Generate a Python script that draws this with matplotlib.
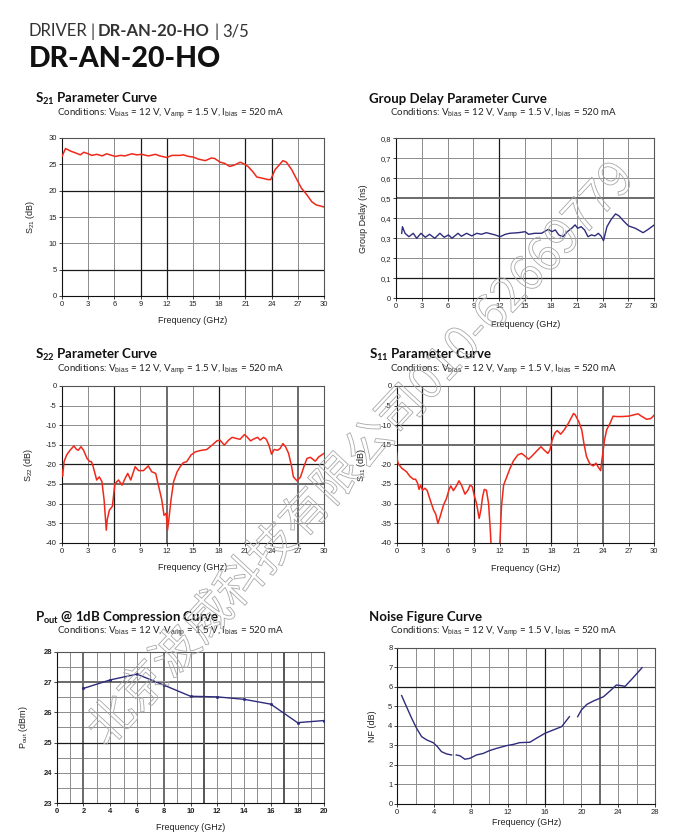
import numpy as np
import matplotlib
matplotlib.use("Agg")
import matplotlib.pyplot as plt
import matplotlib.patheffects as pe

plt.rcParams['font.family'] = ['Liberation Sans', 'DejaVu Sans']
plt.rcParams['mathtext.fontset'] = 'custom'
plt.rcParams['mathtext.rm'] = 'Liberation Sans'
plt.rcParams['mathtext.it'] = 'Liberation Sans:italic'
plt.rcParams['mathtext.bf'] = 'Lato:bold'
plt.rcParams['axes.unicode_minus'] = False

# ---------------- data ----------------
s21_f = [0, 0.4, 1.0, 1.5, 2.1, 2.5, 3.0, 3.4, 4.0, 4.6, 5.1, 6.1, 6.7, 7.2, 8.0, 8.6, 9.1, 9.9,
         10.7, 11.2, 12.0, 12.6, 13.5, 13.9, 14.5, 15.0, 15.6, 16.4, 17.1, 17.5, 18.1, 18.6, 19.2,
         19.8, 20.4, 20.7, 21.3, 21.9, 22.3, 23.1, 23.6, 23.9, 24.4, 25.3, 25.7, 26.3, 26.8, 27.4,
         28.0, 28.6, 29.1, 30.0]
s21_db = [26.5, 28.0, 27.5, 27.2, 26.8, 27.3, 27.0, 26.7, 26.9, 26.6, 27.0, 26.5, 26.7, 26.6, 27.0,
          26.8, 26.9, 26.6, 26.9, 26.6, 26.3, 26.7, 26.7, 26.8, 26.5, 26.4, 26.0, 25.7, 26.2, 26.1,
          25.4, 25.2, 24.6, 24.9, 25.4, 25.2, 24.6, 23.5, 22.6, 22.3, 22.1, 22.1, 24.0, 25.7, 25.4,
          24.0, 22.4, 20.5, 19.3, 17.9, 17.3, 16.9]

gd_f = [0.66, 0.75, 1.05, 1.5, 2.0, 2.4, 2.9, 3.4, 3.9, 4.5, 5.1, 5.6, 6.1, 6.5, 7.2, 7.6, 8.2,
        8.8, 9.4, 9.9, 10.5, 11.5, 12.1, 12.7, 13.2, 14.2, 15.0, 15.4, 16.1, 16.9, 17.7, 18.1,
        18.5, 18.9, 19.4, 19.9, 20.4, 20.8, 21.1, 21.5, 21.9, 22.3, 22.7, 23.1, 23.5, 23.8, 24.1,
        24.5, 25.0, 25.5, 25.9, 26.4, 27.0, 27.8, 28.7, 29.3, 30.0]
gd_ns = [0.325, 0.358, 0.325, 0.308, 0.325, 0.300, 0.325, 0.305, 0.320, 0.300, 0.325, 0.305, 0.317,
         0.300, 0.325, 0.310, 0.325, 0.312, 0.325, 0.320, 0.328, 0.317, 0.308, 0.320, 0.325, 0.328,
         0.333, 0.320, 0.325, 0.325, 0.345, 0.333, 0.342, 0.317, 0.308, 0.333, 0.350, 0.367, 0.350,
         0.358, 0.342, 0.308, 0.317, 0.312, 0.325, 0.312, 0.288, 0.358, 0.395, 0.422, 0.412, 0.388,
         0.362, 0.350, 0.328, 0.345, 0.367]

s22_f = [0.0, 0.1, 0.27, 0.57, 0.95, 1.4, 1.7, 1.9, 2.2, 2.5, 2.9, 3.2, 3.4, 3.6, 4.0, 4.3, 4.6,
         4.85, 5.1, 5.2, 5.45, 5.8, 6.0, 6.1, 6.5, 6.9, 7.25, 7.55, 7.9, 8.4, 8.8, 9.35, 9.9, 10.3,
         10.75, 11.1, 11.45, 11.7, 11.95, 12.1, 12.25, 12.5, 12.8, 13.2, 13.55, 13.9, 14.3, 14.8,
         15.3, 15.8, 16.6, 17.2, 17.75, 18.1, 18.6, 19.1, 19.5, 20.0, 20.4, 20.9, 21.2, 21.6, 21.9,
         22.4, 22.7, 23.1, 23.4, 23.7, 24.0, 24.3, 24.7, 25.0, 25.3, 25.6, 25.95, 26.3, 26.5, 26.9,
         27.3, 27.7, 28.05, 28.45, 29.0, 29.4, 30.0]
s22_db = [-21.5, -23.0, -19.3, -17.6, -16.4, -15.3, -16.2, -16.4, -15.5, -16.4, -18.5, -19.3, -19.3,
          -20.6, -24.0, -23.2, -24.4, -29.1, -36.8, -34.2, -31.7, -30.7, -26.6, -24.9, -24.0, -25.3,
          -23.6, -22.3, -24.0, -20.6, -21.6, -21.6, -20.4, -21.9, -22.3, -25.7, -29.1, -33.0, -32.5,
          -36.8, -34.2, -29.1, -24.4, -21.9, -20.6, -19.6, -19.3, -17.6, -16.8, -16.5, -16.2, -15.1,
          -14.0, -13.8, -15.1, -13.8, -13.1, -13.4, -13.6, -12.4, -13.0, -14.0, -13.6, -13.1, -13.8,
          -13.1, -13.6, -15.1, -17.4, -16.2, -16.4, -15.9, -14.7, -15.5, -17.2, -20.6, -23.2, -24.2,
          -23.3, -20.6, -18.5, -18.2, -19.2, -18.1, -17.2]

s11_f = [0.0, 0.08, 0.2, 0.6, 1.15, 1.55, 1.95, 2.2, 2.45, 2.6, 2.8, 3.0, 3.3, 3.55, 3.9, 4.3, 4.55,
         4.8, 5.05, 5.45, 5.8, 6.1, 6.3, 6.6, 6.9, 7.25, 7.55, 7.95, 8.3, 8.55, 8.8, 9.05, 9.3, 9.6,
         9.8, 10.0, 10.2, 10.45, 10.7, 10.9, 11.0, 11.1, 11.9, 12.0, 12.2, 12.45, 12.8, 13.2, 13.6,
         14.1, 14.55, 14.95, 15.35, 15.7, 16.3, 16.8, 17.15, 17.6, 17.85, 18.1, 18.45, 18.7, 19.1,
         19.5, 20.0, 20.6, 20.8, 21.2, 21.55, 21.8, 22.1, 22.5, 22.9, 23.2, 23.5, 23.75, 23.95, 24.2,
         24.45, 24.85, 25.2, 25.6, 26.2, 27.0, 27.55, 28.1, 28.5, 29.1, 29.6, 30.0]
s11_db = [-17.0, -19.0, -19.9, -21.0, -21.9, -23.1, -23.8, -23.8, -24.9, -26.4, -25.3, -26.6, -26.1,
          -26.7, -29.1, -31.7, -32.7, -35.1, -33.4, -30.4, -28.7, -26.4, -25.5, -26.7, -25.7, -24.2,
          -25.3, -27.6, -26.6, -25.3, -25.7, -28.1, -30.0, -33.8, -31.7, -28.3, -26.4, -26.6, -30.0,
          -36.8, -41.0, -45.0, -45.0, -41.0, -30.8, -25.3, -23.3, -21.0, -19.1, -17.6, -17.2, -17.9,
          -18.7, -18.0, -16.6, -15.5, -16.3, -17.2, -16.3, -13.8, -11.9, -11.4, -12.3, -11.2, -9.5,
          -7.0, -7.4, -9.1, -11.2, -14.6, -18.0, -19.9, -20.4, -19.7, -20.8, -21.6, -18.0, -13.8,
          -11.2, -9.5, -7.7, -7.8, -7.8, -7.7, -7.4, -7.1, -7.7, -8.5, -8.3, -7.4]

pout_f = [2, 4, 6, 8, 10, 12, 14, 16, 18, 20]
pout_dbm = [26.79, 27.07, 27.26, 26.90, 26.53, 26.51, 26.43, 26.27, 25.66, 25.73]

nf_f = [0.47, 1.0, 1.56, 2.1, 2.64, 3.19, 3.9, 4.35, 4.8, 5.36, 5.9, np.nan,
        6.4, 6.8, 7.35, 7.9, 8.6, 9.35, 10.0, 10.8, 11.9, 12.6, 13.3, 14.4, 15.1, 16.05, 16.95,
        17.86, 18.7, np.nan,
        19.6, 20.0, 20.6, 21.3, 22.0, 22.4, 23.1, 23.8, 24.3, 24.75, 25.5, 26.6]
nf_db = [5.55, 4.98, 4.39, 3.87, 3.45, 3.28, 3.14, 2.94, 2.68, 2.56, 2.51, np.nan,
         2.51, 2.47, 2.29, 2.34, 2.51, 2.59, 2.73, 2.85, 2.99, 3.05, 3.14, 3.16, 3.36, 3.62, 3.79,
         3.96, 4.47, np.nan,
         4.47, 4.81, 5.10, 5.27, 5.41, 5.49, 5.78, 6.09, 6.06, 6.02, 6.40, 6.98]

cond = r"Conditions: V$_{\mathrm{bias}}$ = 12 V, V$_{\mathrm{amp}}$ = 1.5 V, I$_{\mathrm{bias}}$ = 520 mA"

W, H = 689, 835
fig = plt.figure(figsize=(W / 100, H / 100), dpi=100)
fig.patch.set_facecolor('white')

RED = '#f0281a'
BLUE = '#2e2c7c'
GRID = '#8c8c8c'
DARK = '#1a1a1a'


def rect(x0, y0, x1, y1):
    return [x0 / W, 1 - y1 / H, (x1 - x0) / W, (y1 - y0) / H]


def ftext(x, y, s, **kw):
    fig.text(x / W, 1 - y / H, s, **kw)


def style(ax, xt, yt, xlim, ylim, dark_x=(), dark_y=(), thick_x=(), thick_y=(),
          ylab='', ylab_x=-0.1, xlab_y=-0.13, tfs=5.5, bold_ticks=False,
          minor_x=None, minor_y=None):
    ax.set_xlim(*xlim)
    ax.set_ylim(*ylim)
    ax.set_xticks(xt)
    ax.set_yticks(yt)
    ax.tick_params(length=2, width=0.6, pad=1.5, labelsize=tfs, colors='#222222')
    if bold_ticks:
        for lab in ax.get_xticklabels() + ax.get_yticklabels():
            lab.set_fontweight('bold')
    if minor_x is not None:
        for v in minor_x:
            ax.axvline(v, color=GRID, lw=0.7, zorder=0.5)
    if minor_y is not None:
        for v in minor_y:
            ax.axhline(v, color=GRID, lw=0.7, zorder=0.5)
    for v in xt:
        if v in dark_x:
            ax.axvline(v, color=DARK, lw=0.9, zorder=0.6)
        elif v in thick_x:
            ax.axvline(v, color='#6a6a6a', lw=1.4, zorder=0.6)
        else:
            ax.axvline(v, color=GRID, lw=0.7, zorder=0.5)
    for v in yt:
        if v in dark_y:
            ax.axhline(v, color=DARK, lw=0.9, zorder=0.6)
        elif v in thick_y:
            ax.axhline(v, color='#6a6a6a', lw=1.4, zorder=0.6)
        else:
            ax.axhline(v, color=GRID, lw=0.7, zorder=0.5)
    for sp in ax.spines.values():
        sp.set_color('#555555')
        sp.set_linewidth(0.8)
    ax.spines['left'].set_color('#111111')
    ax.spines['bottom'].set_color('#111111')
    ax.set_xlabel('Frequency (GHz)', fontsize=6.5, color='#222222')
    ax.xaxis.set_label_coords(0.5, xlab_y)
    ax.set_ylabel(ylab, fontsize=6.5, color='#222222')
    ax.yaxis.set_label_coords(ylab_x, 0.5)


def title(x, y, s, cx, cy):
    ftext(x, y, s, fontsize=9.5, fontweight='bold', family=['Lato', 'DejaVu Sans'],
          va='center', ha='left', color='#111111')
    ftext(cx, cy, cond, fontsize=7.0, family=['Lato', 'DejaVu Sans'], va='center',
          ha='left', color='#222222')


# ---------------- header ----------------
hdr = dict(fontsize=12, va='baseline', family=['Lato', 'DejaVu Sans'], color='#333333')
ftext(29, 36.5, 'DRIVER', fontweight='normal', **hdr)
ftext(90, 36.5, '|', fontweight='normal', **hdr)
ftext(98, 36.5, 'DR-AN-20-HO', fontweight='bold', **hdr)
ftext(214, 36.5, '|', fontweight='normal', **hdr)
ftext(222, 36.5, '3/5', fontweight='normal', **hdr)
ftext(29, 67, 'DR-AN-20-HO', fontsize=20.5, fontweight='black', va='baseline',
      family=['Lato', 'DejaVu Sans'], color='#111111')

# ---------------- S21 ----------------
ax = fig.add_axes(rect(62, 138, 324, 296))
ax.plot(s21_f, s21_db, color=RED, lw=1.1, zorder=3)
style(ax, np.arange(0, 31, 3), np.arange(0, 31, 5), (0, 30), (0, 30),
      dark_x=(9, 12, 21, 24), dark_y=(20, 5), thick_y=(30,), ylab=r'S$_{21}$ (dB)', ylab_x=-0.095,
      xlab_y=-0.125)
title(35, 99, r'S$_{\mathbf{21}}$ Parameter Curve', 57, 114)

# ---------------- Group delay ----------------
ax = fig.add_axes(rect(396, 138.3, 654.3, 298.3))
ax.plot(gd_f, gd_ns, color=BLUE, lw=1.0, zorder=3)
style(ax, np.arange(0, 31, 3), np.round(np.arange(0, 0.81, 0.1), 1), (0, 30), (0, 0.8),
      dark_x=(12,), dark_y=(0.1,), thick_y=(0.5,), ylab='Group Delay (ns)', ylab_x=-0.108,
      xlab_y=-0.135)
ax.set_yticklabels(['0'] + ['0,%d' % i for i in range(1, 9)])
title(369, 99, 'Group Delay Parameter Curve', 390, 114)

# ---------------- S22 ----------------
ax = fig.add_axes(rect(61.7, 386, 324, 542.7))
ax.plot(s22_f, s22_db, color=RED, lw=1.1, zorder=3)
style(ax, np.arange(0, 31, 3), np.arange(-40, 1, 5), (0, 30), (-40, 0),
      dark_x=(6, 18), thick_x=(12, 27), dark_y=(-20,), thick_y=(-25,),
      ylab=r'S$_{22}$ (dB)', ylab_x=-0.1, xlab_y=-0.13)
title(35, 355, r'S$_{\mathbf{22}}$ Parameter Curve', 57, 370)

# ---------------- S11 ----------------
ax = fig.add_axes(rect(396.7, 386, 654.3, 542.7))
ax.plot(s11_f, s11_db, color=RED, lw=1.1, zorder=3)
style(ax, np.arange(0, 31, 3), np.arange(-40, 1, 5), (0, 30), (-40, 0),
      dark_x=(3, 9, 18), thick_x=(24,), dark_y=(-10, -20), thick_y=(-15,),
      ylab=r'S$_{11}$ (dB)', ylab_x=-0.11, xlab_y=-0.137)
title(369, 355, r'S$_{\mathbf{11}}$ Parameter Curve', 390, 370)

# ---------------- Pout ----------------
ax = fig.add_axes(rect(56.7, 651.7, 324.3, 803.3))
ax.plot(pout_f, pout_dbm, color=BLUE, lw=1.0, zorder=3, marker='o', ms=1.2)
style(ax, np.arange(0, 21, 2), np.arange(23, 29, 1), (0, 20), (23, 28),
      thick_x=(2, 8), dark_y=(25,), thick_y=(27,),
      ylab=r'P$_{\mathrm{out}}$ (dBm)', ylab_x=-0.1, xlab_y=-0.13, tfs=5.5, bold_ticks=True,
      minor_x=[1, 3, 5, 7, 9, 13, 15, 19], minor_y=np.arange(23.5, 28, 1.0))
ax.axvline(11, color='#555555', lw=1.4, zorder=0.6)
ax.axvline(17, color='#555555', lw=1.4, zorder=0.6)
title(35, 617, r'P$_{\mathbf{out}}$ @ 1dB Compression Curve', 57, 632)

# ---------------- NF ----------------
ax = fig.add_axes(rect(397.3, 647.7, 655, 804))
ax.plot(nf_f, nf_db, color=BLUE, lw=1.0, zorder=3)
style(ax, np.arange(0, 29, 4), np.arange(0, 9, 1), (0, 28), (0, 8),
      dark_x=(16,), dark_y=(6,), ylab='NF (dB)', ylab_x=-0.078, xlab_y=-0.09,
      minor_x=[2, 6, 10, 14, 18, 26])
ax.axvline(22, color='#6a6a6a', lw=1.4, zorder=0.6)
title(369, 617, 'Noise Figure Curve', 390, 632)

# ---------------- watermark ----------------
fig.text(362 / W, 1 - 455 / H, '北京波威科技有限公司010-62669779', fontsize=34,
         family=['Noto Sans CJK SC', 'DejaVu Sans'], rotation=47, rotation_mode='anchor',
         ha='center', va='center', color=(1, 1, 1, 0), zorder=10,
         path_effects=[pe.Stroke(linewidth=0.6, foreground='#a8a8a8')])

fig.savefig('out.png', dpi=100, facecolor='white')
